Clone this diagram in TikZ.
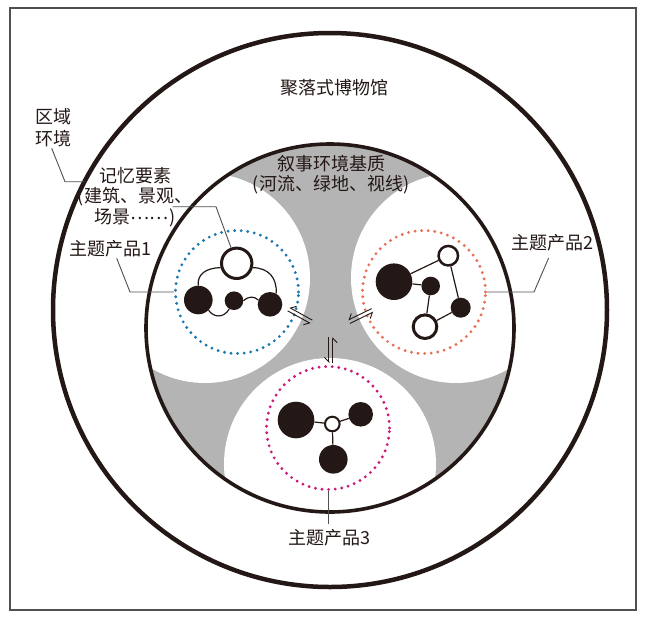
\documentclass[tikz,border=0pt]{standalone}
\usepackage{fontspec}
\setmainfont{Noto Sans CJK SC}
\usetikzlibrary{arrows.meta}
\definecolor{ink}{RGB}{35,24,21}
\definecolor{matrixgray}{RGB}{180,180,180}
\definecolor{dotblue}{RGB}{25,120,175}
\definecolor{dotorange}{RGB}{232,112,82}
\definecolor{dotmagenta}{RGB}{205,25,120}
\definecolor{leadgray}{RGB}{80,80,80}
\tikzset{
  lbl/.style={font=\fontsize{18}{20}\selectfont, text=ink, inner sep=0pt, align=center},
  blackball/.style={circle, fill=ink, inner sep=0pt, minimum size=#1},
  openball/.style={circle, fill=white, draw=ink, inner sep=0pt, minimum size=#1},
  zone/.style={circle, inner sep=0pt, minimum size=123pt, line width=3.2pt, line cap=round, dash pattern=on 0pt off 6.6pt},
  link/.style={draw=ink, line width=1.2pt},
  leader/.style={draw=leadgray, line width=0.9pt},
  eqsym/.pic={
    \draw[draw=ink, line width=0.9pt, -{Straight Barb[harpoon,swap,length=4.5pt,width=9pt]}] (13,-1.9) -- (-13,-1.9);
    \draw[draw=ink, line width=0.9pt, -{Straight Barb[harpoon,swap,length=4.5pt,width=9pt]}] (-13,1.9) -- (13,1.9);
  }
}
\begin{document}
\begin{tikzpicture}[x=1pt,y=-1pt]
\useasboundingbox (0,0) rectangle (646,622);
\fill[white] (0,0) rectangle (646,622);
\draw[draw=leadgray, line width=1.5pt] (10,8) rectangle (636,610);

% outer circle
\draw[draw=ink, line width=4.5pt] (330,310) circle[radius=277];

% inner circle: gray matrix with white lobes
\fill[matrixgray] (330,328) circle[radius=184];
\begin{scope}
  \clip (330,328) circle[radius=184];
  \fill[white] (205,278) circle[radius=105];
  \fill[white] (456,278) circle[radius=105];
  \fill[white] (330,464) circle[radius=106];
\end{scope}
\draw[draw=ink, line width=3.6pt] (330,328) circle[radius=184];

% dotted zones
\node[zone, draw=dotblue] (d1) at (237,292) {};
\node[zone, draw=dotorange] (d2) at (424,292) {};
\node[zone, draw=dotmagenta] (d3) at (328,428) {};

% group 1
\node[openball=30.4pt, line width=3pt] (o1) at (236.7,263.3) {};
\node[blackball=28.6pt] (b1a) at (198.3,300) {};
\node[blackball=18.6pt] (b1b) at (234,300.7) {};
\node[blackball=24.6pt] (b1c) at (270,304.3) {};
\draw[link] (o1.195) .. controls (205,268) and (197,275) .. (b1a.north);
\draw[link] (o1.345) .. controls (268,268) and (277,277) .. (b1c.60);
\draw[link] (b1a.-45) .. controls (214,318) and (224,318) .. (b1b.-120);
\draw[link] (b1b.east) .. controls (249,296) and (254,296) .. (b1c.160);

% group 2
\node[blackball=36.6pt] (b2a) at (394,281.7) {};
\node[openball=19.5pt, line width=2.5pt] (o2a) at (448.3,255.7) {};
\node[blackball=18.6pt] (b2s) at (430.7,286) {};
\node[blackball=20pt] (b2r) at (460.7,307.7) {};
\node[openball=23.6pt, line width=3pt] (o2b) at (425,326.7) {};
\draw[link] (b2a) -- (o2a);
\draw[link] (b2a) -- (b2s);
\draw[link] (o2a) -- (b2r);
\draw[link] (b2s) -- (o2b);
\draw[link] (o2b) -- (b2r);

% group 3
\node[blackball=36.6pt] (b3a) at (296,420) {};
\node[openball=14.6pt, line width=2pt] (o3) at (332.3,424) {};
\node[blackball=24.6pt] (b3r) at (360.7,414.3) {};
\node[blackball=28.6pt] (b3b) at (333.3,459.3) {};
\draw[link] (b3a) -- (o3);
\draw[link] (o3) -- (b3r);
\draw[link] (o3) -- (b3b);

% exchange symbols
\pic[rotate=-29] at (300,315.5) {eqsym};
\pic[rotate=26] at (360.8,316) {eqsym};
\pic[rotate=90] at (330.8,350) {eqsym};

% labels
\node[lbl] (tmus) at (334,88) {聚落式博物馆};
\node[lbl, font=\fontsize{18}{21.5}\selectfont] (treg) at (53.5,127.5) {区域\\环境};
\node[lbl, font=\fontsize{18}{20.5}\selectfont] (tmem) at (135,197) {记忆要素\\(建筑、景观、\\场景\raisebox{0.22em}{……})};
\node[lbl] (tnar) at (331,175) {叙事环境基质\\(河流、绿地、视线)};
\node[lbl] (tp1) at (110,248.3) {主题产品1};
\node[lbl] (tp2) at (552,243) {主题产品2};
\node[lbl] (tp3) at (329.5,537.3) {主题产品3};

% leaders
\coordinate (lr1) at (51.7,148.3);
\coordinate (lr2) at (65,181.7);
\coordinate (lr3) at (84.5,181.7);
\draw[leader] (lr1) -- (lr2) -- (lr3);
\coordinate (lm1) at (172.7,206.7);
\coordinate (lm2) at (216,206.7);
\draw[leader] (lm1) -- (lm2) -- (o1.110);
\coordinate (lp1a) at (116.7,258.3);
\coordinate (lp1b) at (130,292);
\draw[leader] (lp1a) -- (lp1b) -- (d1.west);
\coordinate (lp2a) at (548.6,258);
\coordinate (lp2b) at (534,292);
\draw[leader] (lp2a) -- (lp2b) -- (d2.east);
\coordinate (lp3) at (328,524);
\draw[leader] (d3.south) -- (lp3);
\end{tikzpicture}
\end{document}
